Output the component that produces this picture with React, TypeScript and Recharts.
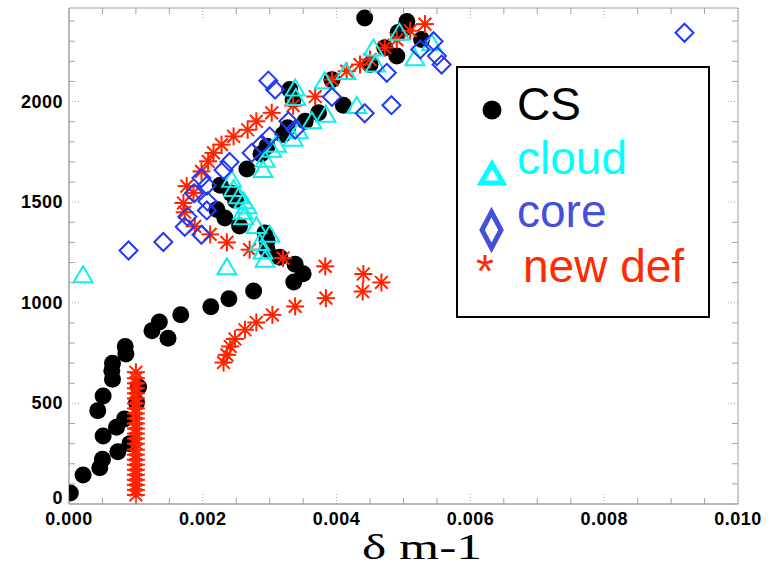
import { ScatterChart, Scatter, XAxis, YAxis, ReferenceArea } from 'recharts'

type Pt = [number, number]

const CS: Pt[] = [
  [0.00002, 55], [0.00021, 144], [0.00046, 180], [0.0005, 222], [0.00073, 260],
  [0.00091, 300], [0.00051, 338], [0.00071, 381], [0.00083, 423], [0.00043, 464],
  [0.00101, 504], [0.00051, 537], [0.00104, 582], [0.00065, 620], [0.00064, 662],
  [0.00065, 700], [0.00085, 745], [0.00084, 783], [0.00148, 824], [0.00124, 861],
  [0.00135, 904], [0.00167, 940], [0.00212, 980], [0.00239, 1020], [0.00276, 1058],
  [0.00336, 1103], [0.0035, 1144], [0.00338, 1192], [0.00315, 1226], [0.00296, 1266],
  [0.00296, 1310], [0.00293, 1347], [0.00255, 1382], [0.00233, 1421], [0.00221, 1464],
  [0.00249, 1508], [0.00242, 1545], [0.00226, 1584], [0.00266, 1665], [0.00287, 1740],
  [0.00296, 1778], [0.0032, 1836], [0.00327, 1870], [0.00353, 1902], [0.00373, 1944],
  [0.0041, 1982], [0.00335, 2010], [0.0033, 2060], [0.00393, 2109], [0.0045, 2184],
  [0.0049, 2226], [0.00472, 2268], [0.00527, 2308], [0.00492, 2343], [0.00503, 2368],
  [0.00505, 2398], [0.00442, 2415],
]

const CLOUD: Pt[] = [
  [0.00021, 1137], [0.00236, 1176], [0.00293, 1214], [0.0029, 1255], [0.00285, 1297],
  [0.003, 1338], [0.0028, 1382], [0.00261, 1425], [0.0026, 1452], [0.00266, 1480],
  [0.00261, 1504], [0.00254, 1530], [0.00246, 1566], [0.00243, 1612], [0.0029, 1660],
  [0.00293, 1711], [0.00303, 1760], [0.0031, 1786], [0.00335, 1815], [0.00343, 1852],
  [0.00363, 1902], [0.00384, 1935], [0.0043, 1978], [0.00339, 2018], [0.00338, 2065],
  [0.00382, 2101], [0.00414, 2147], [0.00458, 2184], [0.00455, 2264], [0.00517, 2215],
  [0.00542, 2290], [0.00494, 2342],
]

const CORE: Pt[] = [
  [0.00089, 1260], [0.00141, 1302], [0.00198, 1338], [0.00173, 1378], [0.00177, 1428],
  [0.00206, 1459], [0.00207, 1504], [0.00187, 1544], [0.00206, 1583], [0.00198, 1620],
  [0.00231, 1660], [0.0024, 1700], [0.00273, 1745], [0.00288, 1788], [0.003, 1827],
  [0.00338, 1861], [0.00328, 1902], [0.00442, 1942], [0.00482, 1982], [0.00393, 2023],
  [0.00308, 2060], [0.00298, 2104], [0.00475, 2143], [0.00557, 2184], [0.0055, 2226],
  [0.00525, 2259], [0.00545, 2300], [0.0092, 2342],
]

const NEW_DEF: Pt[] = [
  [0.001, 45], [0.001, 70], [0.001, 95], [0.001, 120], [0.001, 145], [0.001, 170],
  [0.001, 195], [0.001, 220], [0.001, 245], [0.001, 270], [0.001, 300], [0.001, 325],
  [0.001, 350], [0.001, 375], [0.001, 400], [0.001, 425], [0.001, 450], [0.001, 475],
  [0.001, 500], [0.001, 525], [0.001, 550], [0.001, 575], [0.001, 600], [0.001, 625],
  [0.001, 655],
  [0.00231, 703], [0.00236, 741], [0.00241, 783], [0.00248, 820], [0.00263, 866],
  [0.0028, 902], [0.00304, 940], [0.00338, 982], [0.00384, 1023], [0.00439, 1056],
  [0.00467, 1101], [0.0044, 1143], [0.00383, 1181], [0.0032, 1222], [0.0027, 1264],
  [0.00236, 1300], [0.00211, 1340], [0.00188, 1380], [0.00173, 1450], [0.00171, 1496],
  [0.00186, 1546], [0.00176, 1580], [0.00198, 1653], [0.00208, 1703], [0.00216, 1745],
  [0.00228, 1786], [0.00246, 1827], [0.00267, 1860], [0.0028, 1902], [0.00303, 1944],
  [0.00335, 1980], [0.00368, 2025], [0.00393, 2109], [0.00415, 2151], [0.00435, 2184],
  [0.0045, 2209], [0.00472, 2268], [0.0049, 2308], [0.0051, 2352], [0.00532, 2385],
]

const X_TICKS = [
  0, 0.0005, 0.001, 0.0015, 0.002, 0.0025, 0.003, 0.0035, 0.004, 0.0045, 0.005,
  0.0055, 0.006, 0.0065, 0.007, 0.0075, 0.008, 0.0085, 0.009, 0.0095, 0.01,
]
const Y_TICKS = [
  0, 100, 200, 300, 400, 500, 600, 700, 800, 900, 1000, 1100, 1200, 1300, 1400,
  1500, 1600, 1700, 1800, 1900, 2000, 2100, 2200, 2300, 2400,
]

const W = 780
const H = 569
const MARGIN = { top: 8, right: 42, left: 9, bottom: 35 }
const PLOT_TOP = MARGIN.top
const PLOT_RIGHT = W - MARGIN.right
const FRAME = '#a3a3a3'
const TICK_FONT = { fontFamily: '"Liberation Sans", Arial, sans-serif', fontWeight: 700, fontSize: 18 }

const RED = '#ff2200'
const CYAN = '#10eeee'
const BLUE = '#2438f4'

const toRows = (pts: Pt[]) => pts.map(([x, y]) => ({ x, y }))

const XTick = ({ x, y, payload }: any) => {
  const v = payload.value as number
  const major = Math.round(v * 10000) % 20 === 0
  const len = major ? 12 : 6
  const dash = major ? '1 2' : undefined
  return (
    <g>
      <line x1={x} x2={x} y1={y} y2={y - len} stroke={FRAME} strokeDasharray={dash} />
      <line x1={x} x2={x} y1={PLOT_TOP} y2={PLOT_TOP + len} stroke={FRAME} strokeDasharray={dash} />
      {major && (
        <text x={x} y={y + 21} textAnchor="middle" fill="#000" letterSpacing={0.5} {...TICK_FONT}>
          {v.toFixed(3)}
        </text>
      )}
    </g>
  )
}

const YTick = ({ x, y, payload }: any) => {
  const v = payload.value as number
  const major = v % 500 === 0
  const len = major ? 12 : 6
  const dash = major ? '1 2' : undefined
  return (
    <g>
      <line x1={x} x2={x + len} y1={y} y2={y} stroke={FRAME} strokeDasharray={dash} />
      <line x1={PLOT_RIGHT} x2={PLOT_RIGHT - len} y1={y} y2={y} stroke={FRAME} strokeDasharray={dash} />
      {major && (
        <text x={x - 6} y={y + (v === 0 ? 0 : 6)} textAnchor="end" fill="#000" letterSpacing={0.5} {...TICK_FONT}>
          {v}
        </text>
      )}
    </g>
  )
}

const Dot = ({ cx, cy }: any) => <circle cx={cx} cy={cy} r={8.5} fill="#000" />

const Triangle = ({ cx, cy }: any) => (
  <polygon
    points={`${cx},${cy - 9} ${cx - 9.5},${cy + 7} ${cx + 9.5},${cy + 7}`}
    fill="none"
    stroke={CYAN}
    strokeWidth={2}
  />
)

const Diamond = ({ cx, cy }: any) => (
  <polygon
    points={`${cx},${cy - 9} ${cx + 9},${cy} ${cx},${cy + 9} ${cx - 9},${cy}`}
    fill="none"
    stroke={BLUE}
    strokeWidth={2}
  />
)

const Asterisk = ({ cx, cy }: any) => {
  const r = 9
  const d = r * 0.707
  return (
    <g stroke={RED} strokeWidth={2}>
      <line x1={cx} x2={cx} y1={cy - r} y2={cy + r} />
      <line x1={cx - r} x2={cx + r} y1={cy} y2={cy} />
      <line x1={cx - d} x2={cx + d} y1={cy - d} y2={cy + d} />
      <line x1={cx - d} x2={cx + d} y1={cy + d} y2={cy - d} />
    </g>
  )
}

const LegendBox = () => {
  const font = { fontFamily: '"Liberation Sans", Arial, sans-serif', fontSize: 46 }
  return (
    <svg width={W} height={H} style={{ position: 'absolute', left: 0, top: 0, pointerEvents: 'none' }}>
      <rect x={457} y={67} width={252} height={250} fill="#fff" stroke="#000" strokeWidth={2} />
      <circle cx={492} cy={110} r={9.5} fill="#000" />
      <text x={517} y={120} fill="#000" {...font}>CS</text>
      <polygon points="492,164 481,183 503,183" fill="none" stroke="#00ffff" strokeWidth={5} strokeLinejoin="miter" />
      <text x={517} y={174} fill="#00ffff" {...font}>cloud</text>
      <polygon points="491.5,212 501,230 491.5,248 482,230" fill="none" stroke="#4450d8" strokeWidth={5} />
      <text x={517} y={227} fill="#4450d8" {...font}>core</text>
      <text x={485} y={287} fill="#ff2a00" textAnchor="middle" {...font}>*</text>
      <text x={523} y={282} fill="#ff2a00" {...font}>new def</text>
    </svg>
  )
}

export default function App() {
  return (
    <div style={{ position: 'absolute', left: 0, top: 0, width: W, height: H, background: '#fff' }}>
      <ScatterChart width={W} height={H} margin={MARGIN}>
        <ReferenceArea x1={0} x2={0.01} y1={0} y2={2465} fill="none" stroke={FRAME} strokeWidth={1} />
        <XAxis
          type="number"
          dataKey="x"
          domain={[0, 0.01]}
          ticks={X_TICKS}
          interval={0}
          allowDataOverflow
          height={30}
          tickLine={false}
          tickSize={0}
          tickMargin={0}
          axisLine={{ stroke: FRAME }}
          tick={<XTick />}
        />
        <YAxis
          type="number"
          dataKey="y"
          domain={[0, 2465]}
          ticks={Y_TICKS}
          interval={0}
          allowDataOverflow
          width={60}
          tickLine={false}
          tickSize={0}
          tickMargin={0}
          axisLine={{ stroke: FRAME }}
          tick={<YTick />}
        />
        <Scatter data={toRows(CS)} shape={<Dot />} isAnimationActive={false} />
        <Scatter data={toRows(NEW_DEF)} shape={<Asterisk />} isAnimationActive={false} />
        <Scatter data={toRows(CLOUD)} shape={<Triangle />} isAnimationActive={false} />
        <Scatter data={toRows(CORE)} shape={<Diamond />} isAnimationActive={false} />
      </ScatterChart>
      <LegendBox />
      <svg width={W} height={H} style={{ position: 'absolute', left: 0, top: 0, pointerEvents: 'none' }}>
        <text
          x={362}
          y={559}
          fontFamily='"Liberation Serif", "Times New Roman", serif'
          fontSize={36}
          textLength={120}
          lengthAdjust="spacingAndGlyphs"
          fill="#000"
        >
          δ m-1
        </text>
      </svg>
    </div>
  )
}
